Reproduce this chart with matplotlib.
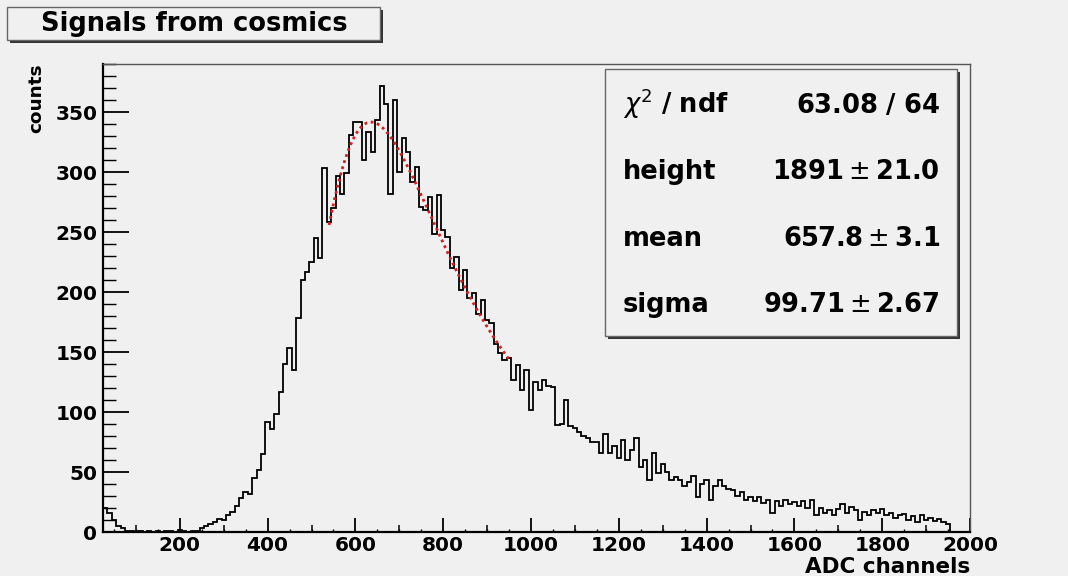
import numpy as np
import matplotlib
matplotlib.use("Agg")
import matplotlib.pyplot as plt
from matplotlib.patches import Rectangle
from matplotlib.ticker import MultipleLocator

# ---- histogram: ADC spectrum of cosmic-ray signals (10-channel bins from 25) ----
bin_start = 25
bin_width = 10
counts = [
    20, 16, 10, 5, 3, 1, 1, 0, 1, 0,            # 25 - 125
    1, 0, 1, 0, 1, 1, 0, 2, 1, 0,               # 125 - 225
    1, 1, 3, 5, 7, 8, 11, 10, 14, 17,           # 225 - 325
    22, 28, 33, 32, 45, 52, 65, 92, 86, 98,     # 325 - 425
    117, 140, 153, 135, 178, 210, 217, 225, 245, 228,   # 425 - 525
    303, 258, 270, 297, 282, 299, 331, 342, 342, 310,   # 525 - 625
    333, 317, 343, 372, 357, 282, 360, 300, 328, 317,   # 625 - 725
    292, 304, 271, 268, 279, 248, 281, 252, 246, 220,   # 725 - 825
    229, 202, 218, 195, 199, 182, 193, 177, 174, 157,   # 825 - 925
    149, 143, 145, 127, 139, 118, 135, 102, 125, 118,   # 925 - 1025
    127, 122, 121, 89, 90, 110, 88, 87, 83, 80,         # 1025 - 1125
    78, 75, 75, 66, 82, 66, 72, 62, 77, 60,             # 1125 - 1225
    68, 78, 54, 60, 43, 66, 49, 57, 50, 43,             # 1225 - 1325
    46, 43, 38, 42, 47, 29, 40, 43, 27, 38,             # 1325 - 1425
    43, 38, 36, 35, 30, 33, 27, 29, 26, 29,             # 1425 - 1525
    24, 27, 16, 26, 22, 27, 23, 25, 22, 26,             # 1525 - 1625
    20, 27, 14, 20, 16, 18, 14, 19, 23, 16,             # 1625 - 1725
    21, 18, 10, 17, 14, 18, 16, 19, 14, 16,             # 1725 - 1825
    12, 14, 15, 10, 13, 8, 14, 10, 12, 9,               # 1825 - 1925
    11, 8, 7, 0, 0, 0, 0,                               # 1925 - 1995
]

# ---- Landau fit result ----
chi2, ndf = 63.08, 64
fit_height, fit_height_err = 1891, 21.0
fit_mean, fit_mean_err = 657.8, 3.1
fit_sigma, fit_sigma_err = 99.71, 2.67
fit_range = (540, 950)

stat_names = [r"$\chi^{2}\ \mathbf{/\ ndf}$", "height", "mean", "sigma"]
stat_values = [
    r"$\mathbf{%.2f\ /\ %d}$" % (chi2, ndf),
    r"$\mathbf{%d}\pm\mathbf{%.1f}$" % (fit_height, fit_height_err),
    r"$\mathbf{%.1f}\pm\mathbf{%.1f}$" % (fit_mean, fit_mean_err),
    r"$\mathbf{%.2f}\pm\mathbf{%.2f}$" % (fit_sigma, fit_sigma_err),
]

title_text = "Signals from cosmics"
x_label = "ADC channels"
y_label = "counts"
x_range = (25, 2000)
y_range = (0, 390)


def landau_pdf(lam):
    """Standard Landau density, phi(l) = 1/pi * int_0^inf exp(-t ln t - l t) sin(pi t) dt."""
    t = np.linspace(1e-9, 40.0, 40001)
    base = -t * np.log(t)
    s = np.sin(np.pi * t)
    out = np.empty_like(lam)
    for i, l in enumerate(lam):
        out[i] = np.trapezoid(np.exp(base - l * t) * s, t) / np.pi
    return out


BG = "#f0f0f0"
W, H = 1068, 576
plt.rcParams["font.family"] = "DejaVu Sans"
plt.rcParams["mathtext.fontset"] = "dejavusans"

fig = plt.figure(figsize=(W / 100, H / 100), dpi=100, facecolor=BG)


def fx(px):
    return px / W


def fy(py):
    return 1 - py / H


ax = fig.add_axes([fx(103), fy(532), fx(970) - fx(103), fy(64) - fy(532)])
ax.set_facecolor(BG)

edges = bin_start + bin_width * np.arange(len(counts) + 1)
ax.stairs(counts, edges, color="black", lw=1.3, baseline=None)

xf = np.linspace(fit_range[0], fit_range[1], 300)
yf = fit_height * landau_pdf((xf - fit_mean) / fit_sigma)
ax.plot(xf, yf, color="#d42020", lw=2.0, ls=(0, (1, 1.3)))

ax.set_xlim(*x_range)
ax.set_ylim(*y_range)

# axis frame
for side in ("left", "bottom"):
    ax.spines[side].set_color("black")
    ax.spines[side].set_linewidth(1.6)
for side in ("top", "right"):
    ax.spines[side].set_color("#555555")
    ax.spines[side].set_linewidth(1.0)

# ticks
ax.xaxis.set_major_locator(MultipleLocator(200))
ax.xaxis.set_minor_locator(MultipleLocator(50))
ax.yaxis.set_major_locator(MultipleLocator(50))
ax.yaxis.set_minor_locator(MultipleLocator(10))
ax.set_yticks(np.arange(0, 351, 50))
ax.tick_params(axis="x", which="major", direction="in", length=10, width=1.3,
               pad=3, labelsize=14.5)
ax.tick_params(axis="x", which="minor", direction="in", length=2.5, width=1.0)
ax.tick_params(axis="y", which="major", direction="in", length=18.5, width=1.3,
               pad=4, labelsize=14.5)
ax.tick_params(axis="y", which="minor", direction="in", length=9.4, width=1.0)
for lab in ax.get_xticklabels() + ax.get_yticklabels():
    lab.set_fontweight("bold")

# intermediate ticks every 100 channels
sec = ax.secondary_xaxis("bottom")
sec.spines["bottom"].set_visible(False)
sec.set_xticks(np.arange(100, 2000, 200))
sec.set_xticklabels([])
sec.tick_params(direction="in", length=5, width=1.1)

# axis titles
fig.text(fx(970), fy(573), x_label, ha="right", va="baseline", fontsize=15.5,
         fontweight="bold")
fig.text(fx(36), fy(63), y_label, ha="center", va="top", rotation=90,
         fontsize=13.3, fontweight="bold")


def pave(x0, y0, x1, y1, shadow=3):
    fig.patches.append(Rectangle((fx(x0 + shadow), fy(y1 + shadow)),
                                 fx(x1) - fx(x0), fy(y0) - fy(y1),
                                 transform=fig.transFigure, facecolor="#333333",
                                 edgecolor="none", zorder=5))
    fig.patches.append(Rectangle((fx(x0), fy(y1)),
                                 fx(x1) - fx(x0), fy(y0) - fy(y1),
                                 transform=fig.transFigure, facecolor=BG,
                                 edgecolor="#666666", lw=1.0, zorder=6))


# title box
pave(7, 7, 380, 40)
fig.text(fx(194), fy(24), title_text, ha="center", va="center", fontsize=18.5,
         fontweight="bold", zorder=7)

# fit statistics box
pave(605, 69, 957, 336)
baselines = [113, 179, 246, 312]
for name, val, yb in zip(stat_names, stat_values, baselines):
    fig.text(fx(623), fy(yb), name, ha="left", va="baseline", fontsize=18.5,
             fontweight="bold", zorder=7)
    fig.text(fx(940), fy(yb), val, ha="right", va="baseline", fontsize=18.5,
             fontweight="bold", zorder=7)

fig.savefig("out.png", dpi=100, facecolor=BG)
